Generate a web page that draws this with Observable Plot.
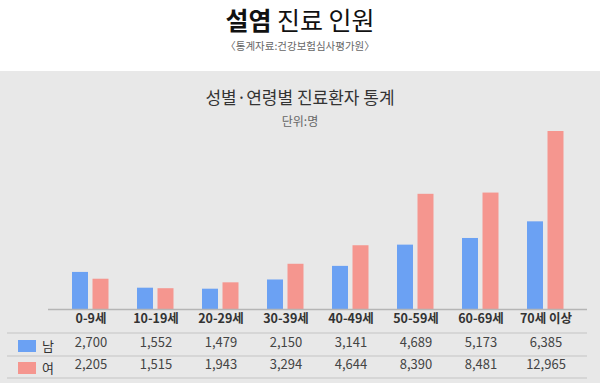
<!DOCTYPE html>
<html><head><meta charset="utf-8">
<script src="https://cdn.jsdelivr.net/npm/d3@7"></script>
<script src="https://cdn.jsdelivr.net/npm/@observablehq/plot@0.6"></script>
<style>
html,body{margin:0;padding:0;background:#fff;font-family:"Noto Sans CJK KR","Noto Sans",sans-serif;}
#wrap{position:relative;width:600px;height:383px;overflow:hidden;}
#head{position:absolute;left:0;top:0;width:600px;height:71px;background:#fff;}
#t1{position:absolute;left:0;width:600px;top:3px;text-align:center;font-size:25px;line-height:32px;color:#111;}
#t1 b{font-weight:700;}
#t2{position:absolute;left:0;width:600px;top:38px;text-align:center;font-size:10.5px;line-height:16px;color:#666;}
#panel{position:absolute;left:0;top:71px;width:600px;height:312px;background:#e8e8e8;}
#c1{position:absolute;left:0;width:600px;top:14px;text-align:center;font-size:17px;line-height:24px;color:#333;}
#c2{position:absolute;left:0;width:600px;top:41px;text-align:center;font-size:12px;line-height:18px;color:#666;}
#plot{position:absolute;left:0;top:0;}
</style></head>
<body>
<div id="wrap">
  <div id="head"><div id="t1"><b>설염</b> 진료 인원</div><div id="t2">〈통계자료:건강보험심사평가원〉</div></div>
  <div id="panel"><div id="c1">성별·연령별 진료환자 통계</div><div id="c2">단위:명</div><div id="plot"></div></div>
</div>
<script>
const ages = ["0-9세","10-19세","20-29세","30-39세","40-49세","50-59세","60-69세","70세 이상"];
const male = [2700,1552,1479,2150,3141,4689,5173,6385];
const female = [2205,1515,1943,3294,4644,8390,8481,12965];
const seriesNames = ["남","여"];
const colors = ["#6ba1f3","#f5968f"];

const maleRows = ages.map((a,i)=>({age:a, value:male[i]}));
const femaleRows = ages.map((a,i)=>({age:a, value:female[i]}));
const fmt = d3.format(",");

const tableDecor = (index, scales, values, dims) => {
  const g = d3.create("svg:g");
  const base = dims.height - dims.marginBottom;
  [24, 47, 69].forEach(off => {
    g.append("line").attr("x1",7).attr("x2",dims.width - dims.marginRight)
      .attr("y1",base+off).attr("y2",base+off).attr("stroke","#c4c4c4").attr("stroke-width",1.2);
  });
  seriesNames.forEach((s,i) => {
    const cy = base + 37 + i*22;
    g.append("rect").attr("x",18).attr("y",cy-6).attr("width",18).attr("height",12).attr("fill",colors[i]);
    g.append("text").attr("x",42).attr("y",cy).attr("dy","0.35em").attr("font-size",13)
      .attr("text-anchor","start")
      .attr("fill","#333").attr("font-family","Noto Sans CJK KR").text(s);
  });
  return g.node();
};

const plot = Plot.plot({
  width: 600,
  height: 312,
  marginTop: 60,
  marginBottom: 74,
  marginLeft: 48,
  marginRight: 13,
  style: {background: "transparent", fontFamily: "Noto Sans CJK KR"},
  x: {domain: ages, axis: null, paddingInner: 0, paddingOuter: 0.146},
  y: {domain: [0, 12965], axis: null},
  marks: [
    Plot.barY(maleRows, {x: "age", y: "value", fill: colors[0], insetLeft: 14, insetRight: 35}),
    Plot.barY(femaleRows, {x: "age", y: "value", fill: colors[1], insetLeft: 34.5, insetRight: 14.5}),
    Plot.ruleY([0], {stroke: "#b5b5b5", strokeWidth: 1.5}),
    Plot.text(ages, {x: d => d, text: d => d, frameAnchor: "bottom", dy: 13, fontSize: 12.5, fontWeight: "bold", fill: "#333"}),
    Plot.text(maleRows, {x: "age", text: d => fmt(d.value), frameAnchor: "bottom", dy: 37, fontSize: 13, fill: "#444"}),
    Plot.text(femaleRows, {x: "age", text: d => fmt(d.value), frameAnchor: "bottom", dy: 59, fontSize: 13, fill: "#444"}),
    tableDecor
  ]
});
document.getElementById("plot").appendChild(plot);
</script>
</body></html>
